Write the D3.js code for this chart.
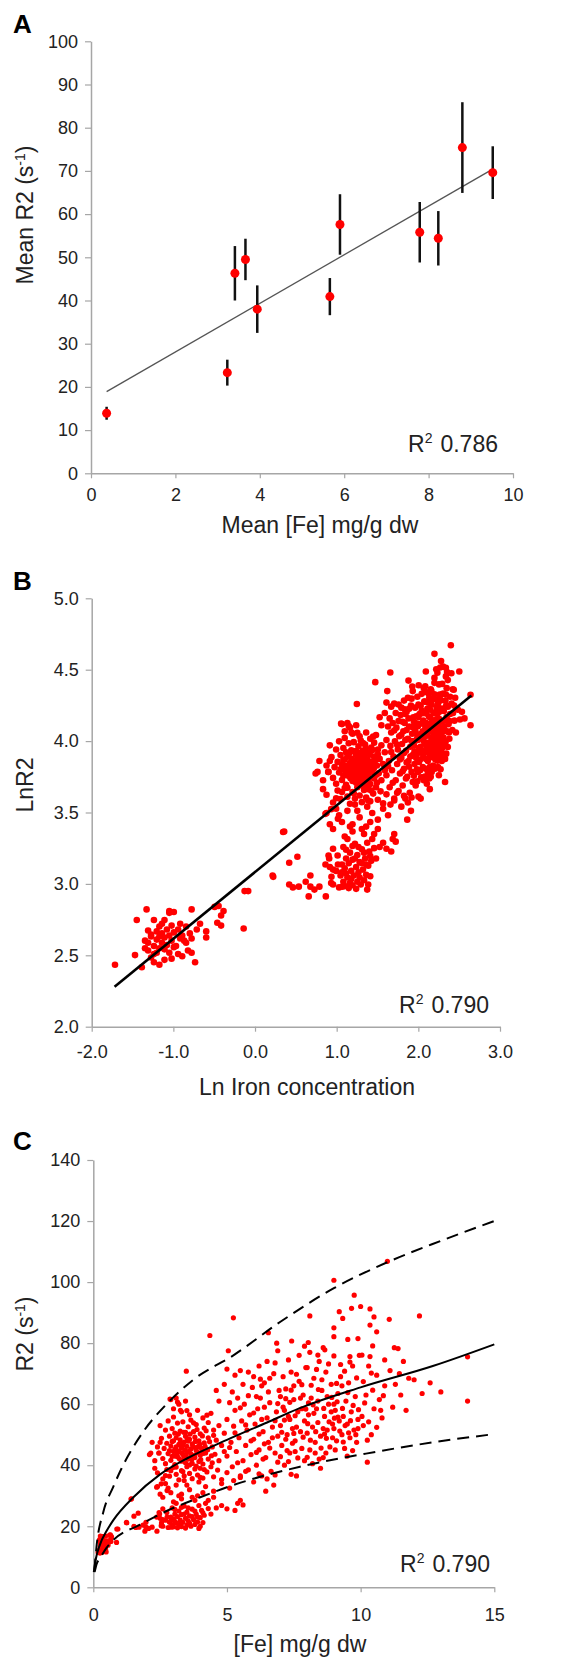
<!DOCTYPE html>
<html>
<head>
<meta charset="utf-8">
<script src="https://d3js.org/d3.v7.min.js"></script>
<style>
body { margin:0; background:#fff; }
text { font-family: "Liberation Sans", Arial, sans-serif; fill:#222; }
</style>
</head>
<body>
<svg id="svg0" width="588" height="1662"></svg>
<script>
// ---- panel A: mean values per sample
var meanFe  = [0.37, 3.23, 3.41, 3.66, 3.94, 5.66, 5.90, 7.79, 8.23, 8.80, 9.52];
var meanR2  = [13.9, 23.3, 46.3, 49.5, 38.0, 40.9, 57.6, 55.8, 54.4, 75.4, 69.6];
var meanErr = [1.5, 3.0, 6.3, 4.8, 5.5, 4.3, 7.0, 7.0, 6.3, 10.5, 6.1];
var fitA_x = [0.37, 9.52], fitA_y = [18.9, 70.4];
var ticksA_x = [0, 2, 4, 6, 8, 10];
var ticksA_y = [0, 10, 20, 30, 40, 50, 60, 70, 80, 90, 100];

// ---- panels B and C: individual measurements, [Fe mg/g dw, R2 s-1]
var lowCluster = [[0.18,11.4],[0.23,12.2],[0.235,15.6],[0.265,16.8],[0.25,11.2],[0.26,13.5],[0.27,13.3],[0.27,12.6],
  [0.28,14.1],[0.28,12.0],[0.29,13.0],[0.29,15.6],[0.29,11.6],[0.30,14.4],[0.30,13.6],[0.30,12.4],[0.31,13.9],
  [0.31,14.9],[0.31,12.8],[0.31,11.4],[0.32,13.3],[0.32,14.2],[0.32,15.2],[0.33,12.7],[0.33,13.8],[0.33,11.8],
  [0.34,14.6],[0.34,13.1],[0.35,16.4],[0.35,12.4],[0.35,14.0],[0.36,13.5],[0.36,15.0],[0.37,12.9],[0.37,14.3],
  [0.38,13.0],[0.37,16.5],[0.39,14.6],[0.39,12.3],[0.40,13.7],[0.40,15.2],[0.41,14.0],[0.41,12.1],[0.46,16.8],
  [0.43,13.3],[0.43,14.9],[0.44,12.6],[0.45,14.2],[0.35,16.6],[0.46,13.7],[0.48,11.6],[0.46,12.4],[0.51,15.2],
  [0.49,14.6],[0.55,13.8],[0.55,14.4],[0.61,17.1],[0.63,15.3],[0.66,15.0],[0.66,16.1],[0.68,16.6],[0.64,17.2],
  [0.87,14.7],[0.88,19.1],[0.28,13.9],[0.27,14.5],[0.26,12.8],[0.33,15.6],[0.29,12.3],[0.36,11.9],[0.42,13.5]];

var midScatter = [[1.25,21.1],[1.41,28.9],[1.52,23.3],[1.52,20.0],[1.59,19.6],[1.68,24.3],[1.86,20.4],[1.97,19.7],
  [1.93,18.4],[2.07,19.3],[2.38,18.4],[1.97,21.3],[2.46,24.5],[2.5,22.6],[2.55,21.1],[2.6,22.2],[1.24,21.3],
  [0.92,19.1],[1.43,29.0],[1.71,19.7],[2.2,19.7],[2.37,23.0],[2.48,24.0],[2.6,25.7],[2.54,20.2]];

var lowerBand = [[2.6,20.0],[2.7,22.0],[2.75,24.5],[2.8,19.6],[2.85,21.3],[2.9,23.0],[2.95,20.4],[2.95,26.0],
  [3.0,22.4],[3.0,19.8],[3.05,24.0],[3.1,21.0],[3.1,27.5],[3.15,23.2],[3.2,20.2],[3.2,25.0],[3.25,22.0],
  [3.3,19.9],[3.3,23.8],[3.35,21.3],[3.4,26.6],[3.45,22.6],[3.5,20.4],[3.5,24.6],[3.55,21.8],[3.6,23.4],
  [3.65,20.0],[3.7,25.6],[3.75,22.2],[3.8,20.6],[3.85,24.0],[3.9,21.4],[3.95,26.8],[4.0,22.8],[4.0,20.0],
  [4.05,25.2],[4.1,21.2],[4.15,23.6],[4.2,27.5],[4.3,25.8],[4.4,24.0],[4.6,26.0],[4.8,26.8],[5.0,25.7],
  [5.3,25.2],[5.4,27.5],[5.5,28.5],[5.6,27.0],[4.5,29.5],[3.8,28.5],[3.3,29.0],[2.76,23.0],[2.92,19.7],
  [2.9,21.8],[3.05,25.5],[3.15,19.5],[3.3,26.2],[3.45,19.4],[3.6,21.0],[3.7,23.2],[3.8,25.0],[3.95,19.3],
  [4.1,24.4],[3.4,24.0],[3.55,26.0],[3.25,20.8],[3.9,23.0],[3.05,21.6]];

var transitionBand = [[2.9,31.0],[3.1,33.5],[3.3,30.5],[3.6,32.0],[3.9,30.0],[4.2,33.0],[4.5,31.5],[4.8,34.0],
  [5.1,32.5],[2.7,34.0],[3.4,35.0],[4.0,36.0],[5.5,36.5],[2.5,30.5],[2.4,33.0],[2.8,32.5],[3.2,30.0],
  [3.5,33.5],[3.7,29.5],[4.1,31.0],[4.3,28.5],[3.0,28.0],[2.7,36.6],[2.54,33.9],[2.37,32.8],[2.76,31.7],[2.6,29.5]];

var denseCluster = [[2.9,61.5],[3.0,58.5],[3.1,62.0],[3.2,60.0],[3.3,57.5],[3.45,61.0],[3.6,56.5],[3.9,58.0],
  [4.1,55.5],[4.4,57.0],[2.5,53.0],[2.7,51.5],[2.8,54.5],[2.95,52.0],[3.05,50.5],[3.15,53.8],[3.25,51.2],
  [3.35,54.2],[3.45,50.8],[3.55,52.6],[3.65,54.8],[3.75,51.0],[3.85,53.3],[4.0,50.3],[4.15,52.2],[4.3,54.0],
  [4.5,51.5],[4.7,53.0],[2.2,47.5],[2.4,46.0],[2.55,48.8],[2.65,45.5],[2.75,47.2],[2.85,49.5],[2.9,46.3],
  [3.0,48.0],[3.05,45.2],[3.1,49.0],[3.2,46.8],[3.25,48.3],[3.3,45.6],[3.4,47.6],[3.45,49.5],[3.5,46.2],
  [3.6,48.5],[3.65,45.3],[3.7,47.0],[3.8,49.2],[3.9,46.0],[3.95,48.0],[4.05,45.5],[4.15,47.3],[4.3,49.0],
  [4.45,46.0],[4.6,48.2],[4.8,46.5],[2.1,43.5],[2.3,41.5],[2.45,44.0],[2.6,42.2],[2.7,40.5],[2.8,43.8],
  [2.9,41.6],[3.0,44.5],[3.05,40.2],[3.15,42.8],[3.2,44.6],[3.3,41.3],[3.35,43.5],[3.45,40.8],[3.5,44.2],
  [3.55,42.0],[3.65,43.7],[3.7,40.6],[3.8,42.5],[3.85,44.8],[3.95,41.2],[4.0,43.3],[4.1,40.4],[4.2,44.0],
  [4.3,42.0],[4.45,40.8],[4.55,43.6],[4.7,41.5],[4.9,44.5],[3.4,42.5],[2.4,37.5],[2.6,35.5],[2.75,38.6],
  [2.85,36.4],[3.0,39.3],[3.1,37.0],[3.2,35.2],[3.3,38.2],[3.4,36.5],[3.5,39.5],[3.6,37.3],[3.7,35.6],
  [3.8,38.8],[3.9,36.8],[4.0,39.0],[4.1,35.8],[4.25,37.8],[4.4,39.5],[4.5,36.2],[4.65,38.4],[4.8,35.3],
  [5.0,37.6],[2.3,39.0],[3.95,34.5],[2.15,44.0],[2.46,44.0],[2.5,47.5],[2.87,61.7],[3.15,60.7],[3.26,58.0],
  [3.48,70.8],[4.36,82.5],[5.24,88.3],[5.05,77.5],[3.35,46.6],[3.55,47.9],[3.15,44.1],[3.75,45.9],[2.95,42.9],
  [2.85,44.8],[2.95,47.8],[3.05,43.0],[3.1,46.0],[3.18,50.2],[3.22,42.1],[3.28,47.1],[3.32,44.0],[3.38,50.8],
  [3.42,45.0],[3.48,42.8],[3.52,48.7],[3.58,44.6],[3.62,50.2],[3.68,41.9],[3.72,46.3],[3.78,43.2],[3.82,47.8],
  [3.88,51.7],[3.92,44.1],[3.98,46.9],[4.02,41.8],[4.08,49.6],[4.12,43.9],[4.18,46.2],[4.22,51.3],[4.28,45.1],
  [4.35,47.7],[4.42,43.1],[4.5,49.8],[3.1,39.4],[3.35,37.9],[3.6,40.1],[3.85,39.7],[4.15,38.6],[2.9,38.2],
  [3.75,53.9],[3.0,55.8],[3.5,57.9],[4.25,56.4]];

var wideCluster = [[4.9,50.5],[5.0,55.0],[5.0,43.0],[5.1,60.5],[5.15,47.5],[5.2,39.5],[5.25,52.8],[5.3,58.0],
  [5.35,44.5],[5.4,62.0],[5.45,49.0],[5.5,36.0],[5.55,54.5],[5.6,41.5],[5.65,60.0],[5.7,46.5],[5.75,51.5],
  [5.8,38.5],[5.85,56.5],[5.9,43.5],[5.95,65.5],[5.6,66.5],[5.3,69.5],[5.2,64.0],[5.8,70.5],[5.5,71.0],
  [4.9,66.5],[5.0,71.5],[4.7,61.0],[4.6,64.5],
  [5.1,45.8],[5.3,50.6],[5.5,58.8],[5.7,53.2],[5.9,48.0],[5.4,40.8],[5.8,62.8],[5.25,35.0],[5.7,38.0],
  [6.0,48.5],[6.05,53.5],[6.1,40.0],[6.15,58.5],[6.2,45.0],[6.25,62.0],[6.3,36.5],[6.35,51.0],[6.4,67.0],
  [6.45,42.5],[6.5,55.5],[6.55,47.5],[6.6,60.5],[6.65,38.0],[6.7,52.5],[6.75,70.0],[6.8,44.0],[6.85,57.5],
  [6.9,49.5],[6.95,64.5],[6.2,72.5],[6.5,74.0],[6.8,73.5],[6.6,68.5],[6.3,55.0],[6.1,62.5],[6.4,47.0],
  [6.9,41.0],[6.0,34.5],[6.5,35.5],[6.75,33.5],[6.45,31.5],[6.3,66.0],[6.0,69.0],[6.9,77.5],[6.55,83.4],[6.86,80.0],
  [6.0,57.1],[6.2,50.2],[6.4,59.0],[6.6,45.6],[6.8,54.6],[6.1,44.2],[6.35,42.0],[6.7,49.0],[6.9,60.2],
  [6.55,64.0],[6.25,68.2],[6.2,37.2],[6.8,36.8],
  [7.0,53.0],[7.05,46.5],[7.1,59.0],[7.15,40.0],[7.2,65.0],[7.25,50.0],[7.3,56.0],[7.35,44.0],[7.4,70.5],
  [7.45,52.0],[7.5,61.5],[7.55,48.0],[7.6,36.5],[7.65,57.5],[7.7,67.5],[7.75,51.0],[7.8,45.5],[7.85,63.0],
  [7.9,54.5],[7.95,72.0],[7.1,69.0],[7.3,74.5],[7.5,66.0],[7.7,76.0],[7.9,41.5],[7.4,37.0],[7.2,48.5],
  [7.6,52.5],[7.8,58.5],[7.0,62.5],[7.35,55.0],[7.55,44.5],[7.42,80.7],[7.9,79.0],[7.15,58.0],
  [7.05,50.8],[7.15,54.8],[7.25,44.8],[7.35,60.6],[7.45,47.2],[7.55,56.2],[7.65,42.4],[7.75,62.0],[7.85,49.2],
  [7.95,58.4],[7.2,61.8],[7.4,64.6],[7.6,69.8],[7.8,66.4],[7.0,42.8],[7.5,50.4],[7.3,41.2],
  [8.0,50.5],[8.05,56.5],[8.1,45.0],[8.15,62.0],[8.2,52.5],[8.25,68.5],[8.3,47.5],[8.35,58.5],[8.4,54.0],
  [8.45,74.0],[8.5,49.5],[8.55,64.5],[8.6,42.5],[8.65,56.0],[8.7,70.5],[8.75,51.5],[8.8,60.0],[8.85,46.0],
  [8.9,66.5],[8.95,53.5],[8.1,77.0],[8.04,80.2],[8.6,78.5],[8.0,72.0],[8.4,61.0],[8.7,44.0],[8.2,40.5],
  [8.5,39.0],[8.9,57.5],[8.75,62.5],[8.1,88.9],[8.4,76.1],[8.66,77.8],[8.6,52.0],[8.25,57.0],
  [8.02,53.6],[8.12,48.2],[8.22,59.8],[8.32,51.0],[8.42,64.8],[8.52,45.6],[8.62,58.6],[8.72,48.8],[8.82,54.2],
  [8.92,62.2],[8.15,66.2],[8.35,71.4],[8.55,68.0],[8.8,73.2],[8.45,42.0],[8.05,60.4],[8.65,50.2],[8.95,49.0],
  [8.0,42.6],[8.3,44.0],
  [9.0,52.0],[9.05,58.0],[9.1,48.0],[9.15,63.5],[9.2,54.5],[9.25,69.0],[9.3,50.0],[9.35,56.0],[9.4,45.5],
  [9.45,61.0],[9.5,53.5],[9.55,67.0],[9.6,49.0],[9.65,57.5],[9.7,72.5],[9.75,51.5],[9.8,62.5],[9.85,47.5],
  [9.9,55.0],[9.95,76.0],[9.0,82.1],[9.0,85.0],[9.33,88.1],[9.52,81.2],[9.9,81.5],[9.0,100.6],[9.76,95.7],
  [9.2,90.3],[9.66,91.4],[9.0,75.8],[9.6,75.6],[9.9,52.0],[9.5,43.0],[9.3,66.0],[9.0,60.0],
  [9.02,55.4],[9.12,60.8],[9.22,51.2],[9.32,58.6],[9.42,53.0],[9.52,63.8],[9.62,54.6],[9.72,59.6],[9.82,50.0],
  [9.92,58.2],[9.1,66.8],[9.4,70.8],[9.6,73.8],[9.85,68.6],[9.05,45.0],[9.35,47.6],[9.7,44.8],[9.25,73.0],
  [9.15,55.8],[9.55,50.6],
  [10.0,92.0],[10.35,91.2],[10.5,88.6],[10.35,85.9],[10.6,83.7],[10.45,79.1],[10.05,76.1],[10.35,75.6],
  [10.3,72.5],[10.6,69.5],[10.9,66.0],[10.2,63.0],[10.5,58.5],[10.8,55.5],[10.1,53.0],[10.4,50.0],
  [10.25,41.0],[10.7,61.5],[11.0,106.8],[11.07,87.8],[11.26,78.5],[11.4,78.2],[11.1,71.0],[11.3,66.5],
  [11.5,63.0],[11.2,59.0],[11.45,70.0],[10.9,74.5],
  [10.05,56.0],[10.15,60.4],[10.3,54.2],[10.45,64.6],[10.6,52.4],[10.75,58.0],[10.1,67.4],[10.4,70.2],
  [10.85,62.8],[10.25,48.2],
  [11.7,58.0],[11.8,68.5],[12.0,68.0],[12.2,88.9],[12.3,63.5],[12.6,67.0],[13.0,64.0],[14.0,75.5],
  [14.0,61.0],[11.6,74.0]];

var allPoints = [].concat(lowCluster, midScatter, lowerBand, transitionBand, denseCluster, wideCluster);

var fitB_x = [-1.72, 2.65], fitB_y = [2.28, 4.32];
var ticksB_x = [-2, -1, 0, 1, 2, 3];
var ticksB_y = [2.0, 2.5, 3.0, 3.5, 4.0, 4.5, 5.0];

// panel C fitted curve and bounds as [Fe, R2]
var fitC = [[0.02,5],[0.1,9.5],[0.25,14],[0.5,18.5],[0.75,22],[1.5,29.5],[2.5,37],[3.5,42.2],[5,48.3],
  [6.5,54],[7.7,58.6],[10,65.5],[12.7,72.5],[15,79.6]];
var upperC = [[0.04,5.5],[0.12,13.3],[0.37,24.5],[0.75,33],[1.06,39],[1.87,51],[2.74,60],[3.74,68],
  [5.24,76],[7,87],[9,98],[11,106.5],[13,113.5],[15,120]];
var lowerC = [[0.05,5],[0.12,7.5],[0.25,9.5],[0.5,13],[0.75,15.5],[1.75,20.5],[2.74,25],[4,29.5],
  [5.24,33.5],[7.73,39.5],[10.2,43.8],[12.7,47.5],[15,50.2]];
var ticksC_x = [0, 5, 10, 15];
var ticksC_y = [0, 20, 40, 60, 80, 100, 120, 140];

var svg = d3.select('#svg0');

function drawAxes(x, y, xTicks, yTicks, fmt, xLabelY) {
    var yAxis = d3.axisLeft(y).tickValues(yTicks).tickSize(6).tickSizeOuter(0).tickPadding(7).tickFormat(fmt);
    var xAxis = d3.axisBottom(x).tickValues(xTicks).tickSize(5).tickSizeOuter(0).tickFormat(fmt);
    var gy = svg.append('g').attr('transform', 'translate(' + x.range()[0] + ',0)').call(yAxis);
    var gx = svg.append('g').attr('transform', 'translate(0,' + y.range()[0] + ')').call(xAxis);
    [gx, gy].forEach(function (g) {
        g.select('.domain').attr('stroke', '#a6a6a6').attr('stroke-width', 1.5);
        g.selectAll('.tick line').attr('stroke', '#a6a6a6').attr('stroke-width', 1.2);
        g.selectAll('text').style('font-size', '18px').style('font-family', '"Liberation Sans", Arial, sans-serif');
    });
    gx.selectAll('text').attr('dy', null).attr('y', xLabelY);
}

function r2Label(xr, yb, val) {
    var t = svg.append('text').attr('x', xr).attr('y', yb).attr('text-anchor', 'end')
               .style('font-size', '23px');
    t.append('tspan').text('R');
    t.append('tspan').attr('dy', -9).style('font-size', '14px').text('2');
    t.append('tspan').attr('dy', 9).attr('dx', 8).text(val);
}

function panelLetter(s, yb) {
    svg.append('text').attr('x', 13).attr('y', yb).style('font-size', '26px')
       .style('font-weight', 'bold').style('fill', '#000').text(s);
}

function yTitle(parts, cy) {
    var t = svg.append('text').attr('transform', 'translate(33,' + cy + ') rotate(-90)')
               .attr('text-anchor', 'middle').style('font-size', '23px');
    parts.forEach(function (p) {
        if (p.sup) {
            t.append('tspan').attr('dy', -8).style('font-size', '14px').text(p.text);
        } else {
            t.append('tspan').attr('dy', p.after ? 8 : 0).text(p.text);
        }
    });
}

// ================= panel A
var xA = d3.scaleLinear().domain([0, 10]).range([91, 513]);
var yA = d3.scaleLinear().domain([0, 100]).range([473.3, 41.3]);
drawAxes(xA, yA, ticksA_x, ticksA_y, function (d) { return d; }, 28);

svg.append('line')
   .attr('x1', xA(fitA_x[0])).attr('y1', yA(fitA_y[0]))
   .attr('x2', xA(fitA_x[1])).attr('y2', yA(fitA_y[1]))
   .attr('stroke', '#555').attr('stroke-width', 1.3);

svg.selectAll('line.err').data(meanFe).enter().append('line').attr('class', 'err')
   .attr('x1', function (d) { return xA(d); }).attr('x2', function (d) { return xA(d); })
   .attr('y1', function (d, i) { return yA(meanR2[i] + meanErr[i]); })
   .attr('y2', function (d, i) { return yA(meanR2[i] - meanErr[i]); })
   .attr('stroke', '#111').attr('stroke-width', 2.5);

svg.selectAll('circle.mean').data(meanFe).enter().append('circle').attr('class', 'mean')
   .attr('cx', function (d) { return xA(d); })
   .attr('cy', function (d, i) { return yA(meanR2[i]); })
   .attr('r', 4.5).attr('fill', '#ff0000');

r2Label(498, 452, '0.786');
panelLetter('A', 33);
svg.append('text').attr('x', 320).attr('y', 533).attr('text-anchor', 'middle')
   .style('font-size', '23px').text('Mean [Fe] mg/g dw');
yTitle([{text: 'Mean R2 (s'}, {text: '-1', sup: true}, {text: ')', after: true}], 215);

// ================= panel B
var xB = d3.scaleLinear().domain([-2, 3]).range([91.7, 500]);
var yB = d3.scaleLinear().domain([2, 5]).range([1026.7, 598.3]);
drawAxes(xB, yB, ticksB_x, ticksB_y, function (d) { return d.toFixed(1); }, 31);

svg.append('g').selectAll('circle').data(allPoints).enter().append('circle')
   .attr('cx', function (d) { return xB(Math.log(d[0])); })
   .attr('cy', function (d) { return yB(Math.log(d[1])); })
   .attr('r', 3.3).attr('fill', '#ff0000');

svg.append('line')
   .attr('x1', xB(fitB_x[0])).attr('y1', yB(fitB_y[0]))
   .attr('x2', xB(fitB_x[1])).attr('y2', yB(fitB_y[1]))
   .attr('stroke', '#000').attr('stroke-width', 2.6);

r2Label(489, 1013, '0.790');
panelLetter('B', 590);
svg.append('text').attr('x', 307).attr('y', 1095).attr('text-anchor', 'middle')
   .style('font-size', '23px').text('Ln Iron concentration');
yTitle([{text: 'LnR2'}], 785);

// ================= panel C
var xC = d3.scaleLinear().domain([0, 15]).range([93.3, 494.3]);
var yC = d3.scaleLinear().domain([0, 140]).range([1587.3, 1160]);
drawAxes(xC, yC, ticksC_x, ticksC_y, function (d) { return d; }, 34);

svg.append('g').selectAll('circle').data(allPoints).enter().append('circle')
   .attr('cx', function (d) { return xC(d[0]); })
   .attr('cy', function (d) { return yC(d[1]); })
   .attr('r', 2.6).attr('fill', '#ff0000');

var lineC = d3.line()
    .x(function (d) { return xC(d[0]); })
    .y(function (d) { return yC(d[1]); })
    .curve(d3.curveMonotoneX);

svg.append('path').attr('d', lineC(fitC)).attr('fill', 'none').attr('stroke', '#000').attr('stroke-width', 2);
svg.append('path').attr('d', lineC(upperC)).attr('fill', 'none').attr('stroke', '#000')
   .attr('stroke-width', 2).attr('stroke-dasharray', '12,7');
svg.append('path').attr('d', lineC(lowerC)).attr('fill', 'none').attr('stroke', '#000')
   .attr('stroke-width', 2).attr('stroke-dasharray', '12,7');

r2Label(490, 1572, '0.790');
panelLetter('C', 1150);
svg.append('text').attr('x', 300).attr('y', 1652).attr('text-anchor', 'middle')
   .style('font-size', '23px').text('[Fe] mg/g dw');
yTitle([{text: 'R2 (s'}, {text: '-1', sup: true}, {text: ')', after: true}], 1334);
</script>
</body>
</html>
